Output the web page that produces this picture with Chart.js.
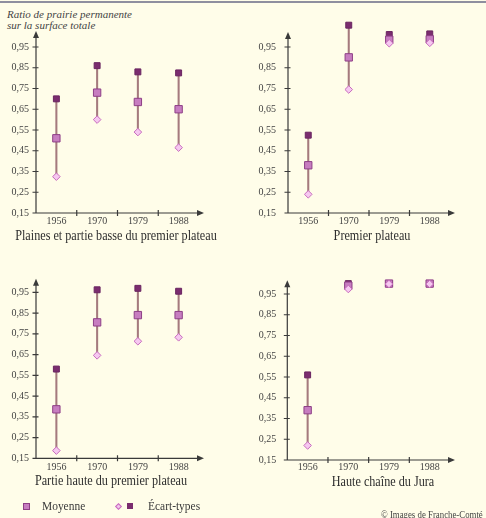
<!DOCTYPE html>
<html lang="fr">
<head>
<meta charset="utf-8">
<title>Ratio de prairie permanente</title>
<script src="https://cdn.jsdelivr.net/npm/chart.js@4/dist/chart.umd.min.js"></script>
<style>
  html, body { margin: 0; padding: 0; }
  body {
    width: 486px; height: 518px; overflow: hidden; position: relative;
    background: #fffde9;
    font-family: "Liberation Serif", "DejaVu Serif", serif;
    color: #3a3a3a;
  }
  .topline { position: absolute; left: 0; top: 1px; width: 486px; height: 2px; background: #8f8f9f; }
  .ytitle { position: absolute; left: 7px; top: 9px; font-size: 11px; font-style: italic; line-height: 10.5px; color: #444; }
  canvas { position: absolute; }
  .ptitle {
    position: absolute; width: 300px; text-align: center; font-size: 14px; line-height: 16px;
    color: #2e2e2e; white-space: nowrap; transform: scaleX(0.87); transform-origin: center;
  }
  .lg { position: absolute; font-size: 13px; line-height: 14px; color: #3a3a3a; transform: scaleX(0.88); transform-origin: left; white-space: nowrap; }
  .sw { position: absolute; box-sizing: border-box; }
  .copy { position: absolute; left: 381px; top: 508px; font-size: 11px; color: #444; white-space: nowrap; transform: scaleX(0.8); transform-origin: left; }
</style>
</head>
<body>
<div class="topline"></div>
<div class="ytitle">Ratio de prairie permanente<br>sur la surface totale</div>

<canvas id="p1" width="243" height="250" style="left:0;top:0"></canvas>
<canvas id="p2" width="243" height="250" style="left:243px;top:0"></canvas>
<canvas id="p3" width="243" height="245" style="left:0;top:250px"></canvas>
<canvas id="p4" width="243" height="245" style="left:243px;top:250px"></canvas>

<div class="ptitle" style="left:-34px;top:228px">Plaines et partie basse du premier plateau</div>
<div class="ptitle" style="left:222px;top:228px">Premier plateau</div>
<div class="ptitle" style="left:-39px;top:473px">Partie haute du premier plateau</div>
<div class="ptitle" style="left:233px;top:474px">Haute chaîne du Jura</div>

<div class="sw" style="left:23px;top:503px;width:7px;height:7px;background:#c77dc0;border:1px solid #8e3f86"></div>
<div class="lg" style="left:42px;top:499px">Moyenne</div>
<div class="sw" style="left:116px;top:504px;width:5px;height:5px;background:#f4c4ee;border:1px solid #c76bbd;transform:rotate(45deg)"></div>
<div class="sw" style="left:127px;top:503px;width:6px;height:6px;background:#7b2d6f"></div>
<div class="lg" style="left:148px;top:499px">Écart-types</div>
<div class="copy">© Images de Franche-Comté</div>

<script>
// Données
const years = ["1956", "1970", "1979", "1988"];
const yTicks = [0.15, 0.25, 0.35, 0.45, 0.55, 0.65, 0.75, 0.85, 0.95];

// Plaines et partie basse du premier plateau
const plainesHigh = [0.70, 0.86, 0.83, 0.825];
const plainesMean = [0.51, 0.73, 0.685, 0.65];
const plainesLow = [0.325, 0.60, 0.54, 0.465];

// Premier plateau
const premierHigh = [0.525, 1.055, 1.01, 1.013];
const premierMean = [0.38, 0.90, 0.985, 0.987];
const premierLow = [0.24, 0.745, 0.968, 0.97];

// Partie haute du premier plateau
const hauteHigh = [0.58, 0.962, 0.969, 0.955];
const hauteMean = [0.386, 0.805, 0.84, 0.84];
const hauteLow = [0.187, 0.646, 0.714, 0.733];

// Haute chaîne du Jura
const juraHigh = [0.56, 1.0, 1.0, 1.0];
const juraMean = [0.39, 0.99, 1.0, 1.0];
const juraLow = [0.22, 0.974, 0.998, 0.998];

(function () {
  "use strict";

  Chart.defaults.font.family = "'Liberation Serif', 'DejaVu Serif', serif";
  Chart.defaults.color = "#444";

  const stemColor = "#a57a7e";
  const axisColor = "#3a3a3a";

  // axes avec flèches et graduations croisées
  const axisArrows = {
    id: "axisArrows",
    beforeDatasetsDraw(chart, args, opts) {
      const { ctx, chartArea } = chart;
      const { left, right, bottom } = chartArea;
      const xs = chart.scales.x;
      const ys = chart.scales.y;
      const top = ys.getPixelForValue(opts.arrowTop);
      ctx.save();
      ctx.strokeStyle = axisColor;
      ctx.fillStyle = axisColor;
      ctx.lineWidth = 1.2;
      ctx.beginPath();
      ctx.moveTo(left, bottom);
      ctx.lineTo(left, top + 3);
      ctx.moveTo(left, bottom);
      ctx.lineTo(right + 1, bottom);
      yTicks.forEach((v) => {
        const y = ys.getPixelForValue(v);
        ctx.moveTo(left - 3.5, y);
        ctx.lineTo(left + 2.5, y);
      });
      for (let i = 1; i < years.length; i++) {
        const x = (xs.getPixelForValue(i - 1) + xs.getPixelForValue(i)) / 2;
        ctx.moveTo(x, bottom - 3);
        ctx.lineTo(x, bottom + 3);
      }
      ctx.stroke();
      // flèche verticale
      ctx.beginPath();
      ctx.moveTo(left, top - 2);
      ctx.lineTo(left - 3, top + 5);
      ctx.lineTo(left + 3, top + 5);
      ctx.closePath();
      ctx.fill();
      // flèche horizontale
      ctx.beginPath();
      ctx.moveTo(right + 5, bottom);
      ctx.lineTo(right - 2, bottom - 3);
      ctx.lineTo(right - 2, bottom + 3);
      ctx.closePath();
      ctx.fill();
      ctx.restore();
    },
  };

  function pointSet(data, style, radius, bg, border, order) {
    return {
      type: "line",
      data: data,
      showLine: false,
      pointStyle: style,
      pointRadius: radius,
      pointBackgroundColor: bg,
      pointBorderColor: border,
      pointBorderWidth: 1,
      backgroundColor: bg,
      borderColor: border,
      order: order,
      clip: false,
    };
  }

  function buildChart(id, panel) {
    const canvas = document.getElementById(id);
    return new Chart(canvas.getContext("2d"), {
      type: "bar",
      data: {
        labels: years,
        datasets: [
          {
            type: "bar",
            data: years.map((_, i) => [panel.low[i], panel.high[i]]),
            backgroundColor: stemColor,
            borderWidth: 0,
            barThickness: 1.4,
            order: 5,
            clip: false,
          },
          pointSet(panel.high, "rect", 4.2, "#7b2d6f", "#6a2560", 3),
          pointSet(panel.mean, "rect", 5.2, "#c77dc0", "#8e3f86", 2),
          pointSet(panel.low, "rectRot", 3.8, "#f6c8f0", "#c76bbd", 1),
        ],
      },
      options: {
        responsive: false,
        animation: false,
        events: [],
        layout: { padding: { top: panel.top, right: panel.right, left: 0, bottom: 0 } },
        plugins: {
          legend: { display: false },
          tooltip: { enabled: false },
          axisArrows: { arrowTop: panel.arrowTop },
        },
        scales: {
          x: {
            grid: { display: false, drawTicks: false },
            border: { display: false },
            ticks: { font: { size: 10 }, color: "#444", padding: panel.xPad },
            afterFit: (s) => {
              s.height = panel.xHeight;
            },
          },
          y: {
            min: 0.15,
            max: 1.08,
            grid: { display: false, drawTicks: false },
            border: { display: false },
            ticks: {
              font: { size: 10 },
              color: "#444",
              padding: panel.yPad,
              callback: (v) => Number(v).toFixed(2).replace(".", ","),
            },
            afterBuildTicks: (s) => {
              s.ticks = yTicks.map((v) => ({ value: v }));
            },
            afterFit: (s) => {
              s.width = panel.left;
            },
          },
        },
      },
      plugins: [axisArrows],
    });
  }

  buildChart("p1", {
    high: plainesHigh, mean: plainesMean, low: plainesLow, arrowTop: 1.017,
    top: 20, right: 44, left: 36, xHeight: 37, yPad: 7, xPad: 2,
  });
  buildChart("p2", {
    high: premierHigh, mean: premierMean, low: premierLow, arrowTop: 1.013,
    top: 20, right: 36, left: 45, xHeight: 37, yPad: 12, xPad: 2,
  });
  buildChart("p3", {
    high: hauteHigh, mean: hauteMean, low: hauteLow, arrowTop: 1.006,
    top: 15.3, right: 44, left: 36, xHeight: 36.7, yPad: 7, xPad: 3,
  });
  buildChart("p4", {
    high: juraHigh, mean: juraMean, low: juraLow, arrowTop: 1.006,
    top: 17, right: 36, left: 44.3, xHeight: 35, yPad: 11, xPad: 1.5,
  });
})();
</script>
</body>
</html>
